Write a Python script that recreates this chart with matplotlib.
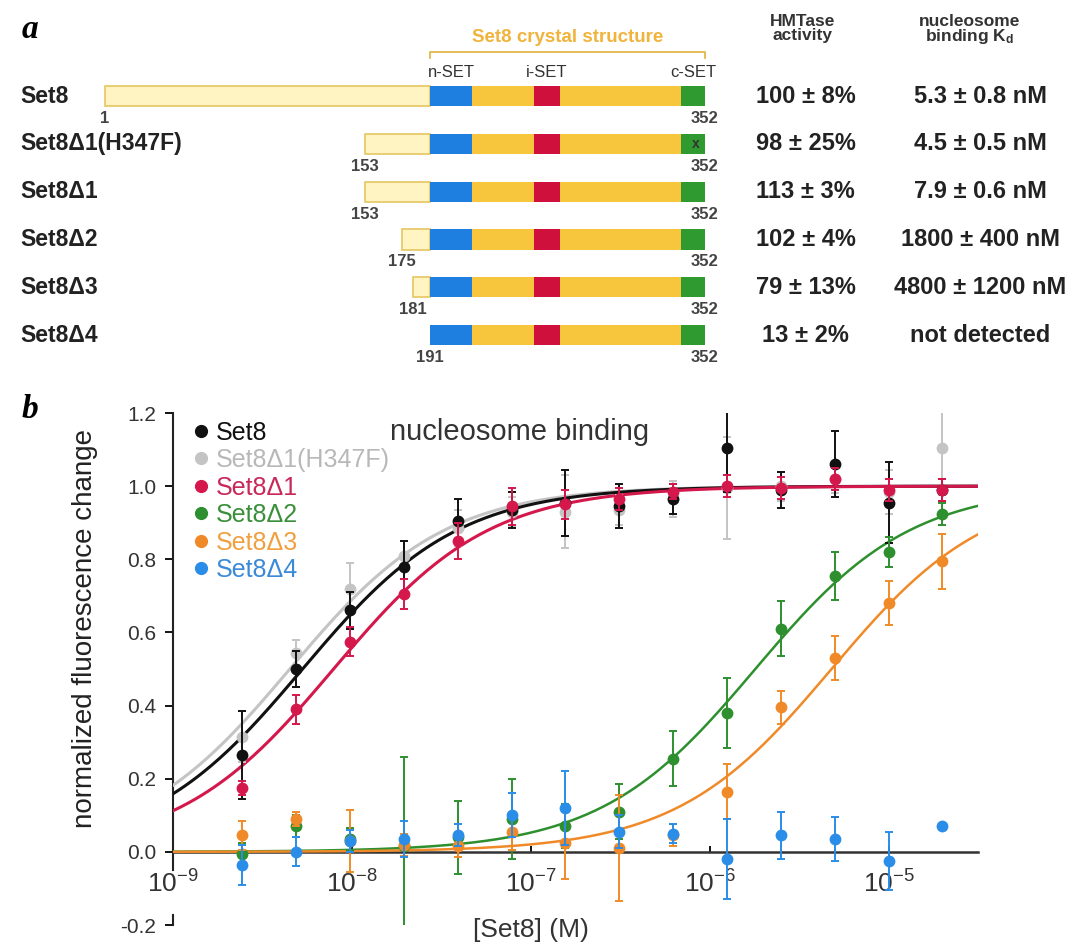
import numpy as np
import matplotlib
matplotlib.use('Agg')
import matplotlib.pyplot as plt
from matplotlib.patches import Rectangle
from matplotlib.lines import Line2D
from matplotlib.transforms import blended_transform_factory

plt.rcParams['font.family'] = ['Liberation Sans', 'DejaVu Sans']
plt.rcParams['mathtext.fontset'] = 'custom'
plt.rcParams['mathtext.rm'] = 'Liberation Sans'
plt.rcParams['mathtext.it'] = 'Liberation Sans:italic'
plt.rcParams['axes.unicode_minus'] = False

# ---- panel a data ----
constructs = ['Set8', 'Set8Δ1(H347F)', 'Set8Δ1', 'Set8Δ2', 'Set8Δ3', 'Set8Δ4']
starts = [1, 153, 153, 175, 181, 191]
end_res = 352
core_start = 191
domains = [('n-SET', 191, 216), ('i-SET', 252, 267), ('c-SET', 338, 352)]
hmtase = ['100 ± 8%', '98 ± 25%', '113 ± 3%', '102 ± 4%', '79 ± 13%', '13 ± 2%']
kd_text = ['5.3 ± 0.8 nM', '4.5 ± 0.5 nM', '7.9 ± 0.6 nM', '1800 ± 400 nM',
           '4800 ± 1200 nM', 'not detected']
mutation_res = 347

# ---- panel b data ----
conc = [2.44e-9, 4.88e-9, 9.77e-9, 1.95e-8, 3.91e-8, 7.81e-8, 1.56e-7,
        3.13e-7, 6.25e-7, 1.25e-6, 2.5e-6, 5e-6, 1e-5, 2e-5]
set8 = [0.265, 0.50, 0.66, 0.78, 0.905, 0.935, 0.955, 0.945, 0.965, 1.105, 0.99, 1.06, 0.955, 0.99]
set8_err = [0.12, 0.05, 0.05, 0.07, 0.06, 0.05, 0.09, 0.06, 0.04, 0.12, 0.05, 0.09, 0.11, 0.03]
d1h = [0.315, 0.545, 0.72, 0.81, 0.885, 0.93, 0.93, 0.935, 0.965, 0.995, 1.0, 1.02, 0.985, 1.105]
d1h_err = [0.07, 0.035, 0.07, 0.04, 0.05, 0.04, 0.10, 0.04, 0.05, 0.14, 0.04, 0.04, 0.06, 0.13]
d1 = [0.175, 0.39, 0.575, 0.705, 0.85, 0.945, 0.95, 0.965, 0.985, 1.0, 0.995, 1.02, 0.99, 0.99]
d1_err = [0.02, 0.04, 0.04, 0.04, 0.05, 0.05, 0.04, 0.03, 0.02, 0.03, 0.03, 0.03, 0.03, 0.03]
d2 = [-0.005, 0.07, 0.035, 0.015, 0.04, 0.09, 0.07, 0.11, 0.255, 0.38, 0.61, 0.755, 0.82, 0.925]
d2_err = [0.03, 0.03, 0.03, 0.245, 0.10, 0.11, 0.06, 0.075, 0.075, 0.095, 0.075, 0.065, 0.04, 0.03]
d3 = [0.045, 0.09, 0.03, 0.02, 0.015, 0.055, 0.025, 0.01, 0.045, 0.165, 0.395, 0.53, 0.68, 0.795]
d3_err = [0.04, 0.02, 0.085, 0.03, 0.03, 0.05, 0.10, 0.145, 0.03, 0.075, 0.045, 0.06, 0.06, 0.075]
d4 = [-0.035, 0.0, 0.03, 0.035, 0.045, 0.10, 0.12, 0.055, 0.05, -0.02, 0.045, 0.035, -0.025, 0.07]
d4_err = [0.055, 0.04, 0.03, 0.05, 0.03, 0.06, 0.10, 0.045, 0.025, 0.11, 0.065, 0.06, 0.08, 0.0]
kd_fit = [5.3e-9, 4.5e-9, 7.9e-9, 1.8e-6, 4.8e-6, None]

colors = ['#111111', '#c4c4c4', '#d4184c', '#2e8f2e', '#f08a28', '#2a8de8']
text_colors = ['#111111', '#b8b8b8', '#c8285a', '#3a8f3a', '#f0a040', '#3a8ad8']

W, H = 1077, 947
fig = plt.figure(figsize=(W / 100, H / 100), dpi=100)

# ================= panel a =================
ax_a = fig.add_axes([0, 1 - 370 / H, 1, 370 / H])
ax_a.set_xlim(-60.4, 569.8)
ax_a.set_ylim(5.73, -2.008)
ax_a.axis('off')
tr = blended_transform_factory(ax_a.transAxes, ax_a.transData)

bh = 0.42
light, light_edge = '#fff4c2', '#e6c660'
gold = '#f8c63c'
dom_cols = ['#1e7fe0', '#d0103c', '#2f9a30']
num_col = '#444444'
txt_col = '#222222'

for i, name in enumerate(constructs):
    s = starts[i]
    if s < core_start:
        ax_a.add_patch(Rectangle((s, i - bh / 2), core_start - s, bh,
                                 fc=light, ec=light_edge, lw=1.2))
    ax_a.add_patch(Rectangle((core_start, i - bh / 2), end_res - core_start, bh,
                             fc=gold, ec='none'))
    for (lab, d0, d1_), c in zip(domains, dom_cols):
        ax_a.add_patch(Rectangle((d0, i - bh / 2), d1_ - d0, bh, fc=c, ec='none'))
    ax_a.text(s, i + 0.47, str(s), ha='center', va='center', fontsize=12,
              fontweight='bold', color=num_col)
    ax_a.text(end_res, i + 0.47, str(end_res), ha='center', va='center', fontsize=12,
              fontweight='bold', color=num_col)
    ax_a.text(0.019, i, name, transform=tr, ha='left', va='center', fontsize=16.5,
              fontweight='bold', color=txt_col)
    ax_a.text(0.748, i, hmtase[i], transform=tr, ha='center', va='center',
              fontsize=17, fontweight='bold', color=txt_col)
    ax_a.text(0.910, i, kd_text[i], transform=tr, ha='center', va='center',
              fontsize=17, fontweight='bold', color=txt_col)

ax_a.text(mutation_res, 1, 'x', ha='center', va='center', fontsize=10,
          fontweight='bold', color='#333333')

for lab, d0, d1_ in domains:
    ax_a.text((d0 + d1_) / 2, -0.50, lab, ha='center', va='center', fontsize=12,
              color='#333333')

# crystal structure bracket
ax_a.plot([core_start, core_start, end_res, end_res], [-0.79, -0.92, -0.92, -0.79],
          color='#e0b84a', lw=1.3)
ax_a.text((core_start + end_res) / 2, -1.234, 'Set8 crystal structure', ha='center',
          va='center', fontsize=13.5, fontweight='bold', color='#f0b43c')

ax_a.text(0.745, -1.41, 'HMTase\nactivity', transform=tr, ha='center', va='center',
          fontsize=12.5, fontweight='bold', color='#333333', linespacing=0.85)
ax_a.text(0.900, -1.38, 'nucleosome\nbinding K$_\\mathregular{d}$', transform=tr,
          ha='center', va='center', fontsize=12.5, fontweight='bold', color='#333333',
          linespacing=0.85)

fig.text(22 / W, 1 - 29 / H, 'a', family='Liberation Serif', fontstyle='italic',
         fontweight='bold', fontsize=24, ha='left', va='center')
fig.text(22 / W, 1 - 410 / H, 'b', family='Liberation Serif', fontstyle='italic',
         fontweight='bold', fontsize=24, ha='left', va='center')

# ================= panel b =================
ax = fig.add_axes([173 / W, 1 - 925 / H, 805 / W, 512 / H])
ax.set_xscale('log')
ax.set_xlim(1e-9, 10 ** -4.5)
ax.set_ylim(-0.2, 1.2)
ax.patch.set_alpha(0)

ax.spines['top'].set_visible(False)
ax.spines['right'].set_visible(False)
ax.spines['bottom'].set_position(('data', 0))
ax.spines['bottom'].set_color('#333333')
ax.spines['bottom'].set_linewidth(1.8)
ax.spines['left'].set_bounds(-0.05, 1.2)
ax.spines['left'].set_color('#222222')
ax.spines['left'].set_linewidth(1.5)
ax.axvline(1e-9, ymin=0, ymax=0.02, color='#222222', lw=1.5, clip_on=False)

ax.set_yticks([-0.2, 0.0, 0.2, 0.4, 0.6, 0.8, 1.0, 1.2])
ax.yaxis.set_major_formatter(matplotlib.ticker.FormatStrFormatter('%.1f'))
ax.tick_params(axis='y', direction='out', length=6, width=1.3, labelsize=15,
               labelcolor='#333333', pad=6)
ax.set_xticks([1e-9, 1e-8, 1e-7, 1e-6, 1e-5])
ax.set_xticklabels(['10$^{-9}$', '10$^{-8}$', '10$^{-7}$', '10$^{-6}$', '10$^{-5}$'])
ax.xaxis.set_minor_locator(matplotlib.ticker.NullLocator())
ax.tick_params(axis='x', direction='in', length=4, width=1.3, labelsize=19,
               labelcolor='#333333', pad=13)

xf = np.logspace(-9, -4.5, 400)
series = [d1h, set8, d1, d2, d3, d4]
errs = [d1h_err, set8_err, d1_err, d2_err, d3_err, d4_err]
order = [1, 0, 2, 3, 4, 5]
for k, idx in enumerate(order):
    kd = kd_fit[idx]
    if kd is not None:
        ax.plot(xf, xf / (kd + xf), color=colors[idx], lw=2.2 if idx < 3 else 1.8,
                zorder=3 + k * 0.01)
for k, idx in enumerate(order):
    ax.errorbar(conc, series[k], yerr=errs[k], fmt='o', color=colors[idx], ms=8.5,
                mec='none', elinewidth=1.4, capsize=3, capthick=1.4, zorder=5 + k)

handles = [Line2D([], [], ls='none', marker='o', ms=9.5, color=c, mec='none')
           for c in colors]
leg = ax.legend(handles, constructs, loc='upper left', bbox_to_anchor=(0.025, 0.985),
                frameon=False, fontsize=18, handlelength=0.6, handletextpad=0.3,
                labelspacing=0.14, borderaxespad=0, borderpad=0)
for t, c in zip(leg.get_texts(), text_colors):
    t.set_color(c)

ax.text(0.431, 0.963, 'nucleosome binding', transform=ax.transAxes, ha='center',
        va='center', fontsize=21, color='#333333')
ax.text(0.445, -0.01, '[Set8] (M)', transform=ax.transAxes, ha='center',
        va='center', fontsize=19, color='#333333')
ax.set_ylabel('normalized fluorescence change', fontsize=20, color='#222222')
ax.yaxis.set_label_coords(-0.093, 0.58)

fig.savefig('out.png', dpi=100)
